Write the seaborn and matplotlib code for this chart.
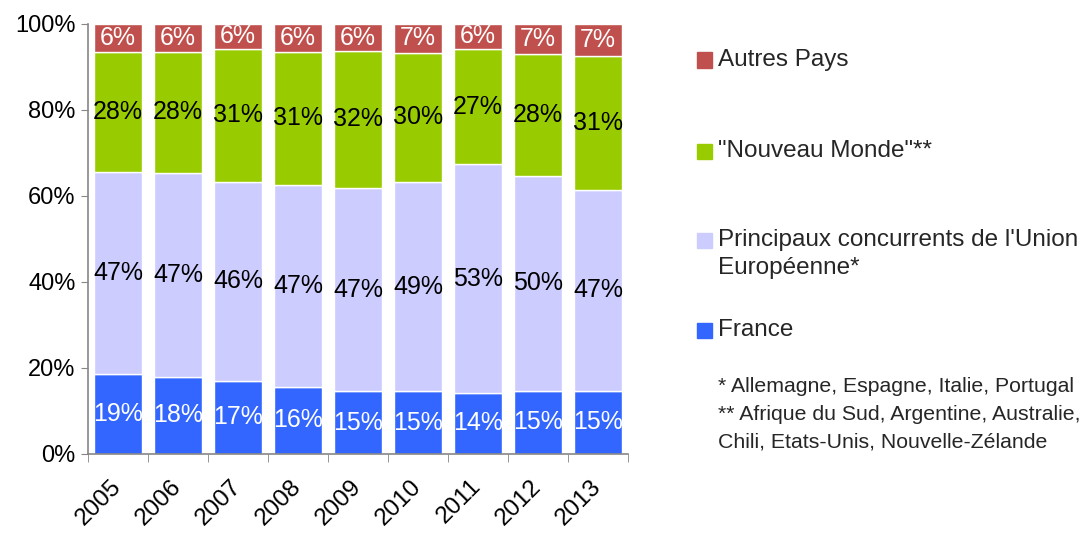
import numpy as np
import pandas as pd
import matplotlib
matplotlib.use("Agg")
import matplotlib.pyplot as plt
import seaborn as sns
from matplotlib.patches import Rectangle

# --- data (shares in %) ---
years = ["2005", "2006", "2007", "2008", "2009", "2010", "2011", "2012", "2013"]
france = [18.6, 17.9, 17.0, 15.6, 14.6, 14.6, 14.2, 14.7, 14.7]
concurrents_ue = [47.0, 47.3, 46.3, 47.0, 47.3, 48.7, 53.2, 50.0, 46.7]
nouveau_monde = [28.0, 28.3, 30.9, 30.9, 31.8, 30.0, 26.8, 28.3, 31.2]
autres_pays = [6.4, 6.4, 5.8, 6.4, 6.3, 6.7, 5.8, 7.0, 7.4]

series = ["France", "Principaux concurrents", "Nouveau Monde", "Autres Pays"]
colors = ["#3366FF", "#CCCCFF", "#99CC00", "#C0504D"]
label_colors = ["white", "black", "black", "white"]

df = pd.DataFrame({
    "year": years,
    "France": france,
    "Principaux concurrents": concurrents_ue,
    "Nouveau Monde": nouveau_monde,
    "Autres Pays": autres_pays,
})

sns.set_style("white")
plt.rcParams["font.family"] = ["Liberation Sans", "DejaVu Sans"]

W, H = 1089, 533
fig = plt.figure(figsize=(W / 100, H / 100), dpi=100)
ax = fig.add_axes([88 / W, 1 - 454 / H, 540 / W, 430 / H])

# 100% stacked bars
totals = df[series].sum(axis=1)
bottom = np.zeros(len(df))
for col, color, lc in zip(series, colors, label_colors):
    share = (df[col] / totals * 100).values
    sns.barplot(x=df["year"], y=share, bottom=bottom, color=color,
                saturation=1, width=0.8, errorbar=None, ax=ax)
    ax.bar_label(ax.containers[-1], labels=[f"{v:.0f}%" for v in df[col]],
                 label_type="center", color=lc, fontsize=18)
    bottom += share

ax.set_xlabel("")
ax.set_ylabel("")
ax.set_ylim(0, 100)
ax.set_xlim(-0.5, len(years) - 0.5)
ax.set_yticks(range(0, 101, 20))
ax.set_yticklabels([f"{v}%" for v in range(0, 101, 20)], fontsize=17, color="black")
ax.tick_params(axis="y", length=5, color="#868686", left=True, pad=4)

# Excel-like ticks between categories, rotated year labels
ax.set_xticks(np.arange(-0.5, len(years), 1), minor=True)
ax.tick_params(axis="x", which="minor", length=6, color="#868686", bottom=True)
ax.tick_params(axis="x", which="major", length=0, pad=21)
for lab in ax.get_xticklabels():
    lab.set_rotation(45)
    lab.set_ha("right")
    lab.set_va("center")
    lab.set_rotation_mode("anchor")
    lab.set_fontsize(17.5)
    lab.set_color("black")

for side in ["top", "right"]:
    ax.spines[side].set_visible(False)
for side in ["left", "bottom"]:
    ax.spines[side].set_color("#868686")
    ax.spines[side].set_linewidth(1.2)

# legend drawn by hand (Excel layout, top item = top of stack)
legend_items = [
    ("Autres Pays", colors[3], 60),
    ("\"Nouveau Monde\"**", colors[2], 151),
    ("Principaux concurrents de l'Union", colors[1], 240),
    ("France", colors[0], 330),
]
for text, color, ypx in legend_items:
    fig.patches.append(Rectangle((697 / W, 1 - (ypx + 7.5) / H), 15 / W, 15 / H,
                                 transform=fig.transFigure, color=color))
    fig.text(718 / W, 1 - ypx / H, text, fontsize=17.5, va="center", ha="left")
fig.text(718 / W, 1 - 268 / H, "Européenne*", fontsize=17.5, va="center", ha="left")

notes = [
    ("* Allemagne, Espagne, Italie, Portugal", 386),
    ("** Afrique du Sud, Argentine, Australie,", 414),
    ("Chili, Etats-Unis, Nouvelle-Zélande", 442),
]
for text, ypx in notes:
    fig.text(718 / W, 1 - ypx / H, text, fontsize=15.3, va="center", ha="left")

fig.savefig("out.png", dpi=100)
